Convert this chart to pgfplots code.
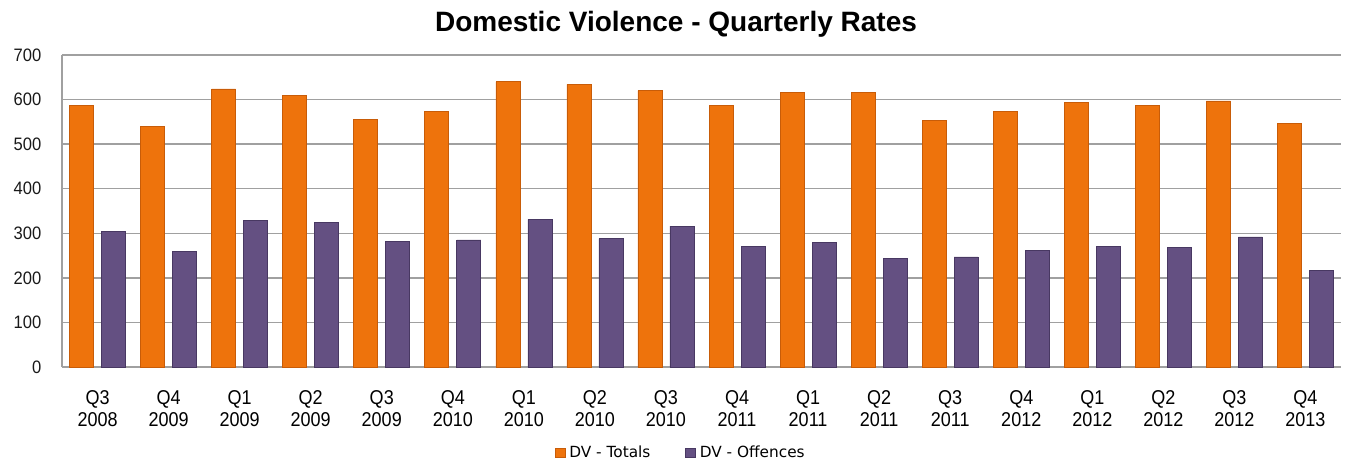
\documentclass[border=0pt]{standalone}
\usepackage{pgfplots}
\pgfplotsset{compat=1.18}
\usepackage{fontspec}
\setmainfont{Liberation Sans}
\newfontfamily\tickfont[FakeStretch=0.9]{Liberation Sans}
\newfontfamily\legfont{DejaVu Sans}
\newfontfamily\ytickfont[FakeStretch=0.92]{Liberation Sans}
\definecolor{orA}{RGB}{238,115,12}
\definecolor{orB}{RGB}{200,92,8}
\definecolor{puA}{RGB}{100,80,130}
\definecolor{puB}{RGB}{72,56,98}
\definecolor{gridc}{RGB}{160,160,160}
\begin{document}
\begin{tikzpicture}
\useasboundingbox (0,0) rectangle (1011pt,-348pt);
\node[font=\fontsize{21}{24}\selectfont\bfseries] at (507pt,-18pt) {Domestic Violence - Quarterly Rates};
\begin{axis}[
  at={(46.5pt,-275.25pt)}, anchor=south west,
  scale only axis, width=959.25pt, height=234pt,
  ymin=0, ymax=700, ytick={0,100,...,700},
  xmin=-0.5, xmax=17.5,
  xtick={0,...,17},
  xticklabels={{Q3\\2008},{Q4\\2009},{Q1\\2009},{Q2\\2009},{Q3\\2009},{Q4\\2010},{Q1\\2010},{Q2\\2010},{Q3\\2010},{Q4\\2011},{Q1\\2011},{Q2\\2011},{Q3\\2011},{Q4\\2012},{Q1\\2012},{Q2\\2012},{Q3\\2012},{Q4\\2013}},
  xticklabel style={align=center, font=\fontsize{15}{16.5}\selectfont\tickfont, yshift=-14pt},
  yticklabel style={font=\fontsize{13.5}{14.3}\selectfont\ytickfont, xshift=-12pt, text=black!90},
  /pgf/number format/assume math mode=true,
  major tick length=0pt,
  axis lines*=left,
  axis line style={draw=gridc, line width=1pt},
  ymajorgrids, grid style={draw=gridc, line width=1pt},
  ybar=6pt, bar width=18pt,
  legend style={at={(0.484,-0.276)}, anchor=center, draw=none, fill=none,
    legend columns=2, font=\fontsize{11.5}{13}\selectfont\legfont,
    /tikz/every odd column/.append style={column sep=1pt},
    /tikz/every even column/.append style={column sep=24pt}},
  legend image code/.code={\fill[#1] (0pt,-3.4pt) rectangle (7.5pt,3.4pt);},
]
\addplot[draw=orB, line width=0.5pt, fill=orA] coordinates {
(0,587) (1,540) (2,624) (3,610) (4,556) (5,573) (6,640) (7,634) (8,620) (9,586) (10,616) (11,616) (12,553) (13,573) (14,593) (15,587) (16,597) (17,546)};
\addplot[draw=puB, line width=0.5pt, fill=puA] coordinates {
(0,305) (1,259) (2,328) (3,325) (4,282) (5,285) (6,331) (7,288) (8,316) (9,271) (10,279) (11,244) (12,247) (13,261) (14,271) (15,268) (16,292) (17,217)};
\legend{DV - Totals, DV - Offences}
\end{axis}
\end{tikzpicture}
\end{document}
